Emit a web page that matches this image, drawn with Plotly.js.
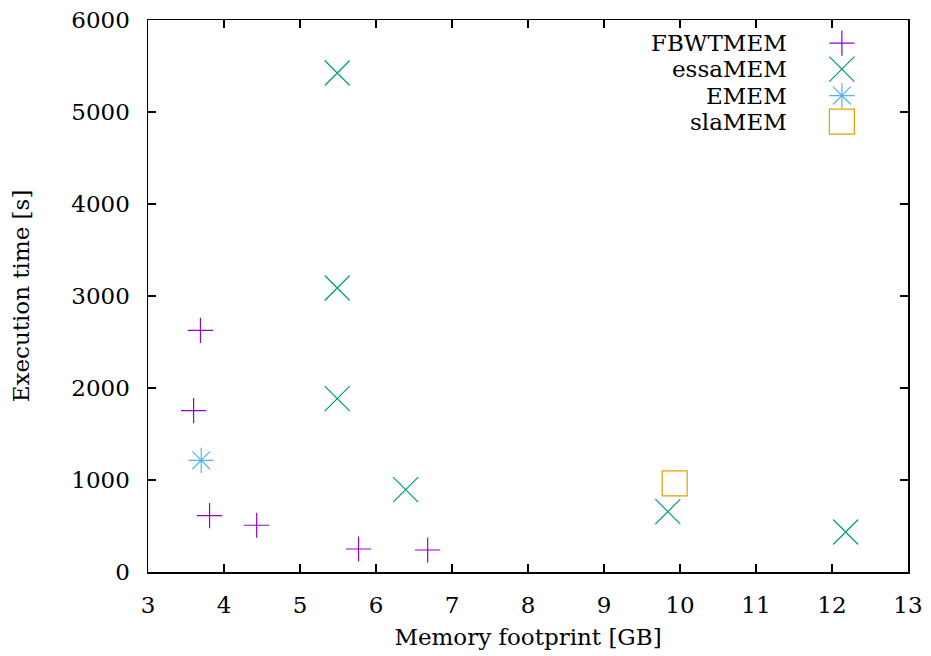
<!DOCTYPE html>
<html>
<head>
<meta charset="utf-8">
<script src="https://cdn.plot.ly/plotly-3.0.1.min.js"></script>
<style>html,body{margin:0;padding:0;background:#fff;}#chart{width:931px;height:656px;}</style>
</head>
<body>
<div id="chart"></div>
<script>
// Data
const seriesNames = ["FBWTMEM", "essaMEM", "EMEM", "slaMEM"];
const fbwtMemX = [3.69, 3.60, 3.81, 4.43, 5.77, 6.68];
const fbwtMemY = [2627, 1754, 613, 508, 250, 239];
const essaMemX = [5.49, 5.49, 5.49, 6.39, 9.84, 12.18];
const essaMemY = [5424, 3087, 1885, 896, 656, 435];
const ememX = [3.70];
const ememY = [1214];
const slaMemX = [9.93];
const slaMemY = [964];
const xTicks = [3, 4, 5, 6, 7, 8, 9, 10, 11, 12, 13];
const yTicks = [0, 1000, 2000, 3000, 4000, 5000, 6000];

const colors = ["#9400d3", "#009e73", "#56b4e9", "#e69f00"];
const symbols = ["cross-thin-open", "x-thin-open", "asterisk-open", "square-open"];
const sizes = [18, 25, 21, 25];
const FONT = "'DejaVu Serif'";

const xs = [fbwtMemX, essaMemX, ememX, slaMemX];
const ys = [fbwtMemY, essaMemY, ememY, slaMemY];

const traces = [];
for (let i = 0; i < 4; i++) {
  traces.push({
    type: "scatter", mode: "markers", name: seriesNames[i],
    x: xs[i], y: ys[i], showlegend: false, hoverinfo: "skip",
    marker: {symbol: symbols[i], size: sizes[i], color: colors[i],
             line: {color: colors[i], width: 1.2}}
  });
}

// Custom gnuplot-style key (text right-aligned, symbol on the right), on an overlay axis
const keyX = 0.913;
const keyY = [0.958, 0.911, 0.863, 0.816];
const keyTextX = 0.843;
const annotations = [];
for (let i = 0; i < 4; i++) {
  traces.push({
    type: "scatter", mode: "markers", x: [keyX], y: [keyY[i]],
    xaxis: "x2", yaxis: "y2", showlegend: false, hoverinfo: "skip",
    marker: {symbol: symbols[i], size: sizes[i], color: colors[i],
             line: {color: colors[i], width: 1.2}}
  });
  annotations.push({
    xref: "paper", yref: "paper", x: keyTextX, y: keyY[i],
    xanchor: "right", yanchor: "middle", showarrow: false,
    text: seriesNames[i], font: {family: FONT, size: 23, color: "#000"}
  });
}

const axisCommon = {
  showline: true, linecolor: "#000", linewidth: 1.5, mirror: "ticks",
  ticks: "inside", ticklen: 8, tickwidth: 1.2, tickcolor: "#000",
  showgrid: false, zeroline: false,
  tickfont: {family: FONT, size: 23, color: "#000"},
  ticklabelstandoff: 12
};

const layout = {
  width: 931, height: 656,
  margin: {l: 148, r: 23, t: 20, b: 84},
  paper_bgcolor: "#fff", plot_bgcolor: "#fff",
  font: {family: FONT, color: "#000"},
  showlegend: false,
  xaxis: Object.assign({}, axisCommon, {
    range: [3, 13], tickvals: xTicks, ticktext: xTicks.map(String),
    title: {text: "Memory footprint [GB]", font: {family: FONT, size: 23, color: "#000"}, standoff: 12}
  }),
  yaxis: Object.assign({}, axisCommon, {
    range: [0, 6000], tickvals: yTicks, ticktext: yTicks.map(String),
    title: {text: "Execution time [s]", font: {family: FONT, size: 23, color: "#000"}, standoff: 35}
  }),
  xaxis2: {overlaying: "x", range: [0, 1], visible: false, fixedrange: true},
  yaxis2: {overlaying: "y", range: [0, 1], visible: false, fixedrange: true},
  annotations: annotations
};

Plotly.newPlot("chart", traces, layout, {displayModeBar: false, staticPlot: true});
</script>
</body>
</html>
